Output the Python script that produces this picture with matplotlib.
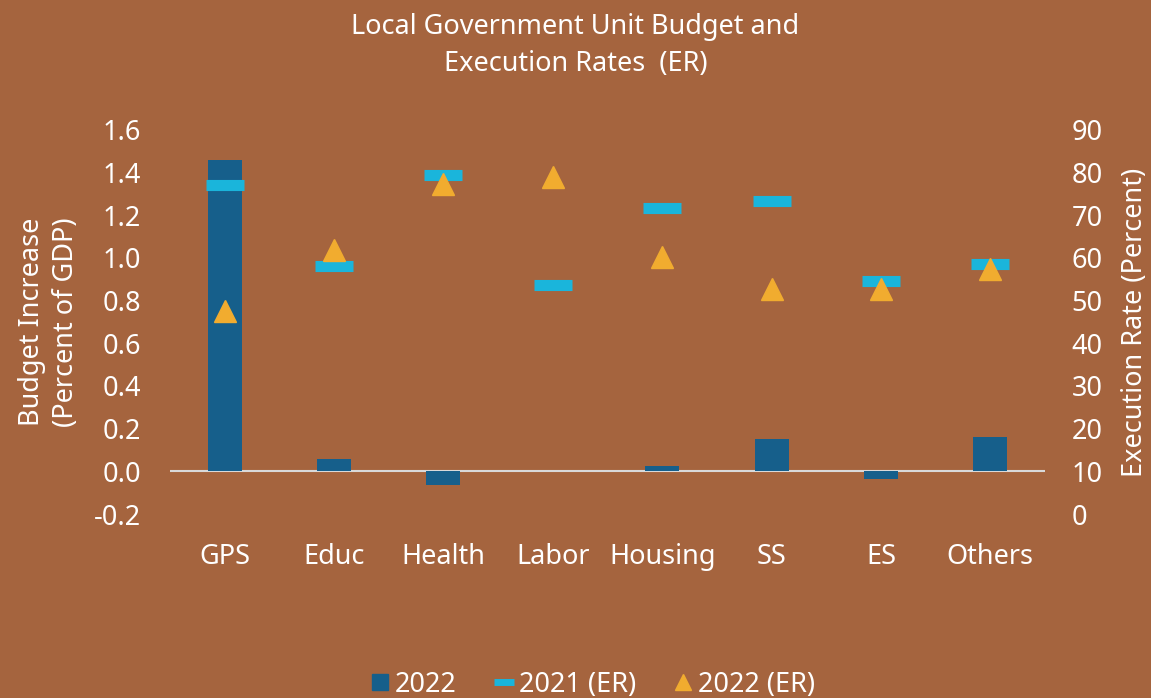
import matplotlib
matplotlib.use("Agg")
import matplotlib.pyplot as plt
from matplotlib.lines import Line2D
import numpy as np

# ── DATA ─────────────────────────────────────────────────────────────────────
categories = ["GPS", "Educ", "Health", "Labor", "Housing", "SS", "ES", "Others"]
budget_2022 = [1.46, 0.06, -0.065, 0.0, 0.025, 0.15, -0.035, 0.16]
er_2021 = [77.1, 58.1, 79.4, 53.7, 71.8, 73.4, 54.6, 58.5]
er_2022 = [47.5, 61.8, 77.3, 78.9, 60.2, 52.7, 52.8, 57.5]

BG = "#A5643E"
BAR_COL = "#165F8B"
DASH_COL = "#1AB5DB"
TRI_COL = "#F1AC2F"
TXT = "white"

plt.rcParams["font.family"] = ["Noto Sans", "DejaVu Sans"]

# ── PLOT ─────────────────────────────────────────────────────────────────────
fig = plt.figure(figsize=(11.51, 6.98), dpi=100, facecolor=BG)
ax = fig.add_axes([0.1477, 0.2636, 0.7602, 0.5502])
ax.set_facecolor(BG)
ax2 = ax.twinx()

x = np.arange(len(categories))
ax.bar(x, budget_2022, width=0.31, color=BAR_COL, zorder=2)
ax.axhline(0, color="#D9D9D9", linewidth=1.5, zorder=1)

ax2.plot(x, er_2021, ls="none", marker="_", ms=27, mew=8, color=DASH_COL, zorder=3)
ax2.plot(x, er_2022, ls="none", marker="^", ms=16.5, color=TRI_COL, zorder=4)

ax.set_xlim(-0.5, len(categories) - 0.5)
ax.set_ylim(-0.2, 1.6)
ax.set_yticks(np.arange(-0.2, 1.61, 0.2))
ax.set_yticklabels([f"{v:.1f}" for v in np.arange(-0.2, 1.61, 0.2)])
ax2.set_ylim(0, 90)
ax2.set_yticks(range(0, 91, 10))

ax.set_xticks(x)
ax.set_xticklabels(categories)

for a in (ax, ax2):
    for s in a.spines.values():
        s.set_visible(False)
    a.tick_params(length=0, colors=TXT, labelsize=19.5)
ax.tick_params(axis="x", pad=21)
ax.tick_params(axis="y", pad=21)
ax2.tick_params(axis="y", pad=19)

ax.set_ylabel("Budget Increase\n(Percent of GDP)", color=TXT, fontsize=19.5,
              linespacing=1.3, labelpad=10)
ax2.set_ylabel("Execution Rate (Percent)", color=TXT, fontsize=19.5, labelpad=13)

fig.suptitle("Local Government Unit Budget and\nExecution Rates  (ER)",
             color=TXT, fontsize=19.5, y=0.982, linespacing=1.45)

handles = [
    Line2D([], [], ls="none", marker="s", ms=11, color=BAR_COL),
    Line2D([], [], ls="none", marker="_", ms=14, mew=5, color=DASH_COL),
    Line2D([], [], ls="none", marker="^", ms=12, color=TRI_COL),
]
fig.legend(handles, ["2022", "2021 (ER)", "2022 (ER)"], loc="lower center",
           bbox_to_anchor=(0.515, -0.036), ncol=3, frameon=False, fontsize=19.5,
           labelcolor=TXT, handlelength=0.7, handletextpad=0.2, columnspacing=1.4)

plt.savefig("out.png", dpi=100, facecolor=BG)
